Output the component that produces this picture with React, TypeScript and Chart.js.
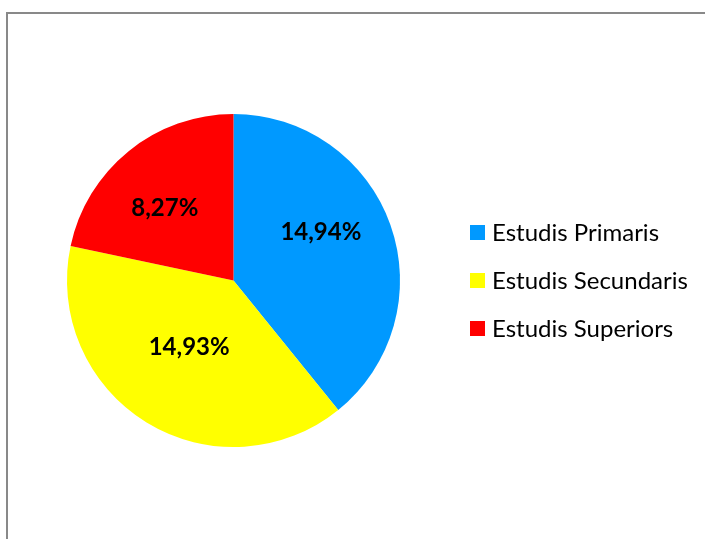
import React, { useEffect, useRef } from "react";
import { Chart, registerables } from "chart.js";

Chart.register(...registerables);

const categories = ["Estudis Primaris", "Estudis Secundaris", "Estudis Superiors"];
const values = [14.94, 14.93, 8.27];
const valueLabels = ["14,94%", "14,93%", "8,27%"];
const colors = ["#0099FF", "#FFFF00", "#FF0000"];
// label placement inside each slice: fraction of radius and angle shift (deg)
const labelRadius = [0.6, 0.48, 0.6];
const labelAngleShift = [-9.5, 2.2, -4.4];

const FONT = "Lato, 'Open Sans', sans-serif";

const labelPlugin = {
  id: "sliceLabels",
  afterDatasetsDraw(chart: any) {
    const ctx = chart.ctx;
    const meta = chart.getDatasetMeta(0);
    ctx.save();
    ctx.fillStyle = "#000";
    ctx.font = `bold 24px ${FONT}`;
    ctx.textAlign = "center";
    ctx.textBaseline = "middle";
    meta.data.forEach((arc: any, i: number) => {
      const p = arc.getProps(["x", "y", "startAngle", "endAngle", "outerRadius"], true);
      const mid = (p.startAngle + p.endAngle) / 2 + (labelAngleShift[i] * Math.PI) / 180;
      const r = p.outerRadius * labelRadius[i];
      ctx.fillText(valueLabels[i], p.x + Math.cos(mid) * r, p.y + Math.sin(mid) * r);
    });
    ctx.restore();
  },
};

const legendPlugin = {
  id: "customLegend",
  afterDraw(chart: any) {
    const ctx = chart.ctx;
    const labels = chart.data.labels as string[];
    const bg = chart.data.datasets[0].backgroundColor as string[];
    ctx.save();
    ctx.font = `24px ${FONT}`;
    ctx.textBaseline = "middle";
    ctx.textAlign = "left";
    const x0 = 470;
    const y0 = 232.5;
    const step = 48;
    labels.forEach((l, i) => {
      const y = y0 + i * step;
      ctx.fillStyle = bg[i];
      ctx.fillRect(x0, y - 7.5, 15, 15);
      ctx.fillStyle = "#000";
      ctx.fillText(l, x0 + 22, y + 1);
    });
    ctx.restore();
  },
};

export default function App() {
  const ref = useRef<HTMLCanvasElement | null>(null);
  useEffect(() => {
    if (!ref.current) return;
    const chart = new Chart(ref.current, {
      type: "pie",
      data: {
        labels: categories,
        datasets: [
          {
            data: values,
            backgroundColor: colors,
            borderWidth: 0,
          },
        ],
      },
      options: {
        responsive: false,
        animation: false,
        layout: { padding: { top: 114, bottom: 92, left: 67, right: 305 } },
        plugins: {
          legend: { display: false },
          tooltip: { enabled: false },
        },
      },
      plugins: [labelPlugin, legendPlugin],
    });
    return () => chart.destroy();
  }, []);

  return (
    <div style={{ position: "fixed", left: 0, top: 0, width: 705, height: 539, background: "#fff", overflow: "hidden" }}>
      <div
        style={{
          position: "absolute",
          left: 6,
          top: 12,
          width: 720,
          height: 560,
          border: "2px solid #898989",
          boxSizing: "border-box",
        }}
      />
      <canvas ref={ref} width={705} height={539} style={{ position: "absolute", left: 0, top: 0 }} />
    </div>
  );
}
